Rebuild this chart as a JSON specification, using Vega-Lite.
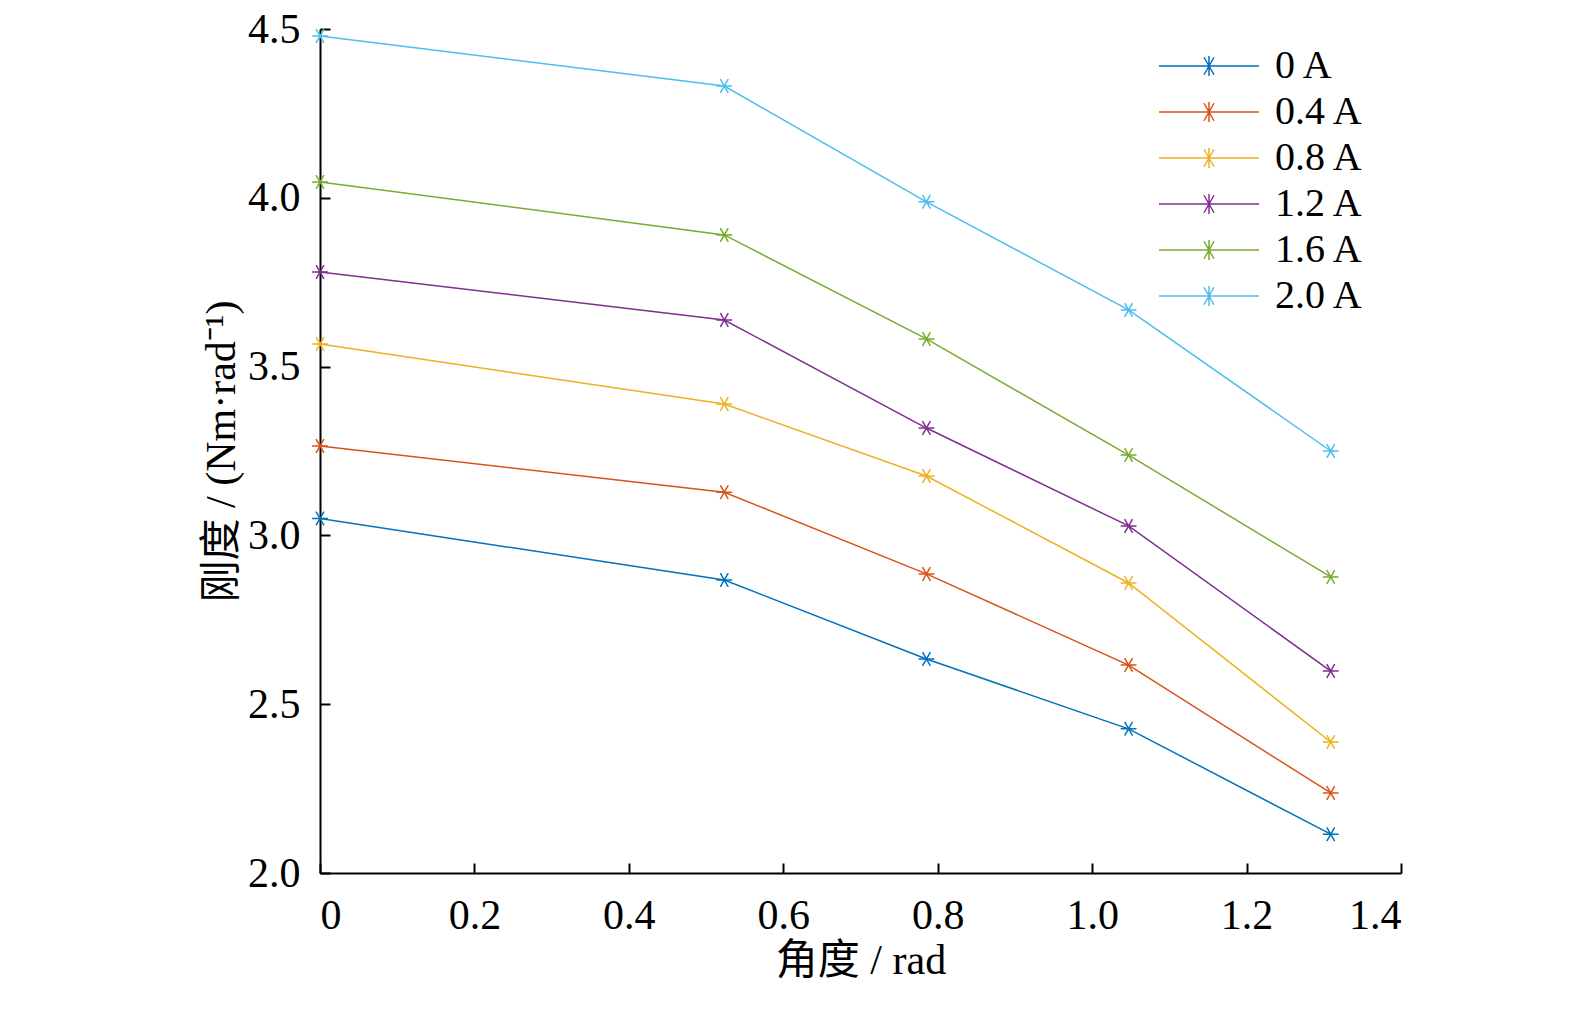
{
  "$schema": "https://vega.github.io/schema/vega-lite/v6.json",
  "width": 1081,
  "height": 844,
  "autosize": {"type": "none"},
  "padding": {"left": 320, "top": 29, "right": 174, "bottom": 155},
  "background": "white",
  "config": {
    "view": {"stroke": null},
    "font": "Liberation Serif",
    "axis": {"grid": false, "domainColor": "black", "tickColor": "black", "tickSize": -10, "labelColor": "black", "labelFont": "Liberation Serif", "labelFontSize": 42, "titleFont": "Liberation Serif, Noto Sans CJK SC", "titleFontSize": 42, "titleFontWeight": "normal", "titleColor": "black", "domainWidth": 2, "tickWidth": 2}
  },
  "data": {"values": [
    {"a": 0, "s": "0 A", "y": 3.05}, {"a": 0.5236, "s": "0 A", "y": 2.868}, {"a": 0.7854, "s": "0 A", "y": 2.634}, {"a": 1.0472, "s": "0 A", "y": 2.427}, {"a": 1.309, "s": "0 A", "y": 2.115},
    {"a": 0, "s": "0.4 A", "y": 3.265}, {"a": 0.5236, "s": "0.4 A", "y": 3.128}, {"a": 0.7854, "s": "0.4 A", "y": 2.886}, {"a": 1.0472, "s": "0.4 A", "y": 2.616}, {"a": 1.309, "s": "0.4 A", "y": 2.237},
    {"a": 0, "s": "0.8 A", "y": 3.567}, {"a": 0.5236, "s": "0.8 A", "y": 3.389}, {"a": 0.7854, "s": "0.8 A", "y": 3.176}, {"a": 1.0472, "s": "0.8 A", "y": 2.859}, {"a": 1.309, "s": "0.8 A", "y": 2.388},
    {"a": 0, "s": "1.2 A", "y": 3.78}, {"a": 0.5236, "s": "1.2 A", "y": 3.638}, {"a": 0.7854, "s": "1.2 A", "y": 3.318}, {"a": 1.0472, "s": "1.2 A", "y": 3.028}, {"a": 1.309, "s": "1.2 A", "y": 2.598},
    {"a": 0, "s": "1.6 A", "y": 4.047}, {"a": 0.5236, "s": "1.6 A", "y": 3.89}, {"a": 0.7854, "s": "1.6 A", "y": 3.582}, {"a": 1.0472, "s": "1.6 A", "y": 3.238}, {"a": 1.309, "s": "1.6 A", "y": 2.877},
    {"a": 0, "s": "2.0 A", "y": 4.479}, {"a": 0.5236, "s": "2.0 A", "y": 4.331}, {"a": 0.7854, "s": "2.0 A", "y": 3.988}, {"a": 1.0472, "s": "2.0 A", "y": 3.668}, {"a": 1.309, "s": "2.0 A", "y": 3.25}
  ]},
  "mark": {"type": "line", "strokeWidth": 1.5, "point": {"shape": "M-1,0L1,0M-0.5,-0.87L0.5,0.87M-0.5,0.87L0.5,-0.87", "filled": false, "size": 250, "strokeWidth": 1.5}},
  "encoding": {
    "x": {"field": "a", "type": "quantitative", "title": "角度 / rad", "titlePadding": 55, "scale": {"domain": [0, 1.4]}, "axis": {"values": [0, 0.2, 0.4, 0.6, 0.8, 1.0, 1.2, 1.4], "labelExpr": "datum.value == 0 ? '0' : format(datum.value, '.1f')", "labelPadding": 32}},
    "y": {"field": "y", "type": "quantitative", "title": "刚度 / (Nm·rad⁻¹)", "titlePadding": 85, "scale": {"domain": [2.0, 4.5]}, "axis": {"values": [2.0, 2.5, 3.0, 3.5, 4.0, 4.5], "format": ".1f", "labelPadding": 30}},
    "color": {"field": "s", "type": "nominal", "title": null,
      "scale": {"domain": ["0 A", "0.4 A", "0.8 A", "1.2 A", "1.6 A", "2.0 A"], "range": ["#0072BD", "#D95319", "#EDB120", "#7E2F8E", "#77AC30", "#4DBEEE"]},
      "legend": {"orient": "none", "legendX": 863, "legendY": 11, "symbolType": "M-2,0L2,0M-0.4,0L0.4,0M0,-0.4L0,0.4M-0.2,-0.35L0.2,0.35M-0.2,0.35L0.2,-0.35", "symbolSize": 2500, "symbolStrokeWidth": 1.5, "labelFontSize": 40, "labelFont": "Liberation Serif", "labelColor": "black", "rowPadding": -9, "labelOffset": 40}
    }
  }
}
